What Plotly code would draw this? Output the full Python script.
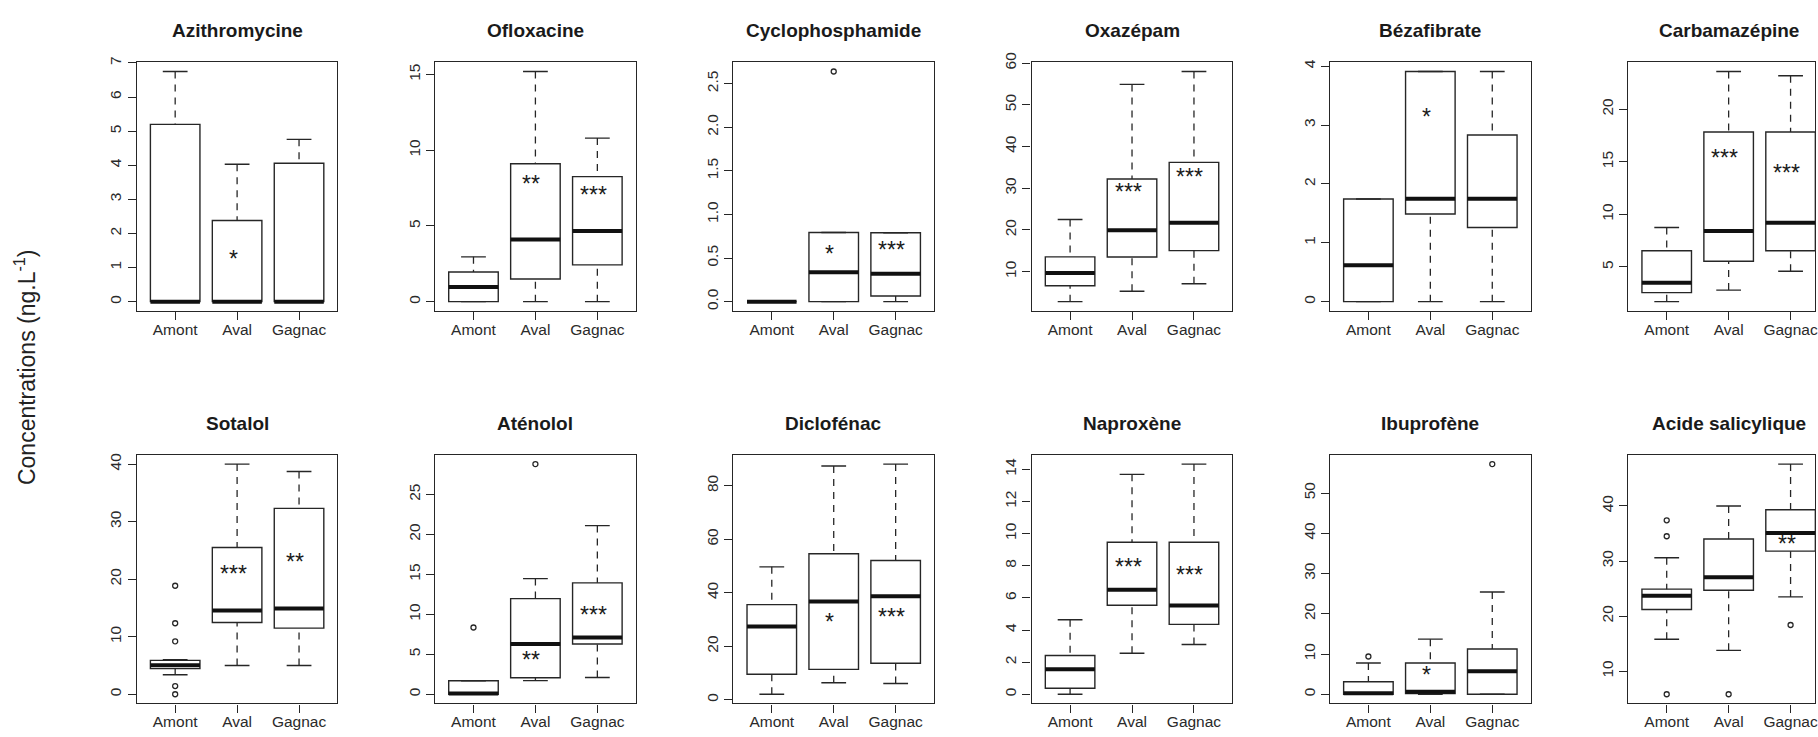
import plotly.graph_objects as go

# ---------------- data ----------------
compounds = ["Azithromycine", "Ofloxacine", "Cyclophosphamide", "Oxazépam", "Bézafibrate",
             "Carbamazépine", "Sotalol", "Aténolol", "Diclofénac", "Naproxène",
             "Ibuprofène", "Acide salicylique"]
sites = ["Amont", "Aval", "Gagnac"]

whisker_low = [
    [0, 0, 0],
    [0, 0, 0],
    [0, 0, 0],
    [2.8, 5.3, 7.1],
    [0, 0, 0],
    [1.7, 2.8, 4.6],
    [3.4, 5.0, 5.0],
    [0, 1.7, 2.1],
    [2.1, 6.4, 6.1],
    [0, 2.55, 3.1],
    [0, 0, 0],
    [15.8, 13.8, 23.5],
]
q1_vals = [
    [0, 0, 0],
    [0, 1.5, 2.43],
    [0, 0, 0.064],
    [6.6, 13.5, 15.05],
    [0, 1.49, 1.26],
    [2.56, 5.54, 6.54],
    [4.46, 12.46, 11.5],
    [0, 2.06, 6.29],
    [9.6, 11.4, 13.7],
    [0.37, 5.54, 4.35],
    [0, 0.2, 0],
    [21.2, 24.7, 31.8],
]
median_vals = [
    [0, 0, 0],
    [0.96, 4.11, 4.67],
    [0, 0.336, 0.32],
    [9.7, 19.9, 21.7],
    [0.62, 1.75, 1.75],
    [3.5, 8.42, 9.2],
    [5.03, 14.57, 14.9],
    [0.1, 6.29, 7.1],
    [27.4, 36.8, 38.7],
    [1.55, 6.5, 5.52],
    [0.25, 0.65, 5.7],
    [23.7, 27.05, 35.1],
]
q3_vals = [
    [5.2, 2.38, 4.06],
    [1.96, 9.11, 8.26],
    [0, 0.793, 0.79],
    [13.55, 32.2, 36.2],
    [1.745, 3.91, 2.83],
    [6.54, 17.84, 17.84],
    [5.89, 25.5, 32.3],
    [1.69, 11.97, 13.94],
    [35.6, 54.6, 52.1],
    [2.41, 9.46, 9.46],
    [3.1, 7.75, 11.26],
    [24.9, 34.0, 39.3],
]
whisker_high = [
    [6.75, 4.03, 4.76],
    [2.96, 15.2, 10.8],
    [0, 0.793, 0.79],
    [22.5, 54.9, 58.0],
    [1.745, 3.91, 3.91],
    [8.76, 23.6, 23.2],
    [6.0, 40.0, 38.7],
    [1.69, 14.47, 21.1],
    [49.7, 87.4, 88.1],
    [4.64, 13.69, 14.33],
    [7.75, 13.7, 25.4],
    [30.6, 40.0, 47.6],
]

outlier_compound = ["Cyclophosphamide",
                    "Sotalol", "Sotalol", "Sotalol", "Sotalol", "Sotalol",
                    "Aténolol", "Aténolol",
                    "Ibuprofène", "Ibuprofène",
                    "Acide salicylique", "Acide salicylique", "Acide salicylique",
                    "Acide salicylique", "Acide salicylique"]
outlier_site = ["Aval",
                "Amont", "Amont", "Amont", "Amont", "Amont",
                "Amont", "Aval",
                "Amont", "Gagnac",
                "Amont", "Amont", "Amont", "Aval", "Gagnac"]
outlier_value = [2.64,
                 18.86, 12.34, 9.2, 1.43, 0.0,
                 8.35, 28.8,
                 9.38, 57.2,
                 37.4, 34.5, 5.83, 5.83, 18.4]

star_compound = ["Azithromycine", "Ofloxacine", "Ofloxacine", "Cyclophosphamide", "Cyclophosphamide",
                 "Oxazépam", "Oxazépam", "Bézafibrate", "Carbamazépine", "Carbamazépine",
                 "Sotalol", "Sotalol", "Aténolol", "Aténolol", "Diclofénac", "Diclofénac",
                 "Naproxène", "Naproxène", "Ibuprofène", "Acide salicylique"]
star_site = ["Aval", "Aval", "Gagnac", "Aval", "Gagnac",
             "Aval", "Gagnac", "Aval", "Aval", "Gagnac",
             "Aval", "Gagnac", "Aval", "Gagnac", "Aval", "Gagnac",
             "Aval", "Gagnac", "Aval", "Gagnac"]
star_label = ["*", "**", "***", "*", "***",
              "***", "***", "*", "***", "***",
              "***", "**", "**", "***", "*", "***",
              "***", "***", "*", "**"]
star_value = [1.32, 7.9, 7.2, 0.574, 0.62,
              29.6, 33.2, 3.17, 15.6, 14.1,
              21.2, 23.3, 4.52, 10.2, 29.7, 31.7,
              8.03, 7.56, 5.4, 33.4]

ytick_vals = [
    [0, 1, 2, 3, 4, 5, 6, 7],
    [0, 5, 10, 15],
    [0, 0.5, 1, 1.5, 2, 2.5],
    [10, 20, 30, 40, 50, 60],
    [0, 1, 2, 3, 4],
    [5, 10, 15, 20],
    [0, 10, 20, 30, 40],
    [0, 5, 10, 15, 20, 25],
    [0, 20, 40, 60, 80],
    [0, 2, 4, 6, 8, 10, 12, 14],
    [0, 10, 20, 30, 40, 50],
    [10, 20, 30, 40],
]
y_title = "Concentrations (ng.L<sup>-1</sup>)"

# ---------------- style / geometry ----------------
W, H = 1818, 737
FONT = "Liberation Sans, Arial, Helvetica, sans-serif"
LINE = "#262626"
TXT = "#1a1a1a"
COL_LEFT, COL_STEP, BOX_W = 137, 298.8, 201
ROW_TOP, BOX_H = [53, 451], 252
XR0, XR1 = 0.38, 3.62

fig = go.Figure()
layout_axes = {}
annotations = []
positions = [1, 2, 3]

for i, name in enumerate(compounds):
    s = "" if i == 0 else str(i + 1)
    xa, ya = "x" + s, "y" + s
    row, col = divmod(i, 6)

    x0px = COL_LEFT + col * COL_STEP
    x1px = x0px + BOX_W
    xr1 = XR1
    if x1px > W:
        xr1 = XR0 + (XR1 - XR0) * (W - x0px) / BOX_W
        x1px = W
    y0px = ROW_TOP[row]
    y1px = y0px + BOX_H

    vals = whisker_low[i] + whisker_high[i] + [v for c, v in zip(outlier_compound, outlier_value) if c == name]
    lo, hi = min(vals), max(vals)
    ext = 0.04 * (hi - lo)

    lo_w, q1, med, q3, hi_w = whisker_low[i], q1_vals[i], median_vals[i], q3_vals[i], whisker_high[i]

    fig.add_trace(go.Box(
        x=positions, q1=q1, median=med, q3=q3, lowerfence=q1, upperfence=q3,
        width=0.8, whiskerwidth=0, fillcolor="white",
        line=dict(color=LINE, width=1.4), boxpoints=False, hoverinfo="skip",
        xaxis=xa, yaxis=ya, showlegend=False))

    wx, wy = [], []
    for p, a, b, c, d in zip(positions, hi_w, q3, lo_w, q1):
        wx += [p, p, None, p, p, None]
        wy += [a, b, None, c, d, None]
    fig.add_trace(go.Scatter(x=wx, y=wy, mode="lines",
                             line=dict(color=LINE, width=1.3, dash="7px,6px"),
                             hoverinfo="skip", xaxis=xa, yaxis=ya, showlegend=False))

    sx, sy = [], []
    for p, a, c in zip(positions, hi_w, lo_w):
        sx += [p - 0.2, p + 0.2, None, p - 0.2, p + 0.2, None]
        sy += [a, a, None, c, c, None]
    fig.add_trace(go.Scatter(x=sx, y=sy, mode="lines",
                             line=dict(color=LINE, width=1.4),
                             hoverinfo="skip", xaxis=xa, yaxis=ya, showlegend=False))

    mx, my = [], []
    for p, m in zip(positions, med):
        mx += [p - 0.4, p + 0.4, None]
        my += [m, m, None]
    fig.add_trace(go.Scatter(x=mx, y=my, mode="lines",
                             line=dict(color="#111111", width=4),
                             hoverinfo="skip", xaxis=xa, yaxis=ya, showlegend=False))

    ox = [positions[sites.index(st)] for c, st in zip(outlier_compound, outlier_site) if c == name]
    oy = [v for c, v in zip(outlier_compound, outlier_value) if c == name]
    if ox:
        fig.add_trace(go.Scatter(x=ox, y=oy, mode="markers",
                                 marker=dict(symbol="circle-open", size=5, color=LINE,
                                             line=dict(width=1.3, color=LINE)),
                                 hoverinfo="skip", xaxis=xa, yaxis=ya, showlegend=False))

    for c, st, lab, v in zip(star_compound, star_site, star_label, star_value):
        if c == name:
            annotations.append(dict(x=positions[sites.index(st)], y=v, xref=xa, yref=ya,
                                    text=lab, showarrow=False, xshift=-4, yshift=-2,
                                    font=dict(family=FONT, size=23, color=TXT)))

    annotations.append(dict(x=(x0px + BOX_W / 2) / W, y=1 - (y0px - 32) / H,
                            xref="paper", yref="paper", text="<b>%s</b>" % name,
                            showarrow=False, xanchor="center", yanchor="middle",
                            font=dict(family=FONT, size=19, color=TXT)))

    tick_text = [("%.1f" % v) if any(float(t) != int(t) for t in ytick_vals[i]) else str(int(v))
                 for v in ytick_vals[i]]

    layout_axes["xaxis" + s] = dict(
        domain=[x0px / W, x1px / W], range=[XR0, xr1], anchor=ya,
        tickmode="array", tickvals=positions, ticktext=sites,
        ticks="outside", ticklen=8, tickwidth=1.3, tickcolor=LINE,
        ticklabelstandoff=-4, ticklabeloverflow="allow",
        showline=True, mirror=True, linecolor=LINE, linewidth=1.4,
        showgrid=False, zeroline=False, fixedrange=True,
        tickfont=dict(family=FONT, size=15.5, color="#2a2a2a"))
    layout_axes["yaxis" + s] = dict(
        domain=[1 - y1px / H, 1 - y0px / H], range=[lo - ext, hi + ext], anchor=xa,
        tickmode="array", tickvals=ytick_vals[i], ticktext=tick_text, tickangle=-90,
        ticks="outside", ticklen=8, tickwidth=1.3, tickcolor=LINE,
        showline=True, mirror=True, linecolor=LINE, linewidth=1.4,
        showgrid=False, zeroline=False, fixedrange=True,
        tickfont=dict(family=FONT, size=15.5, color="#2a2a2a"))

annotations.append(dict(x=25 / W, y=1 - 362 / H, xref="paper", yref="paper",
                        text=y_title, textangle=-90, showarrow=False,
                        xanchor="center", yanchor="middle",
                        font=dict(family=FONT, size=23, color="#222222")))

fig.update_layout(
    width=W, height=H, autosize=False,
    margin=dict(l=0, r=0, t=0, b=0),
    paper_bgcolor="white", plot_bgcolor="white",
    showlegend=False, annotations=annotations,
    **layout_axes)

fig.write_html("out.html", config={"displayModeBar": False},
               post_script="document.body.style.margin='0';document.body.style.overflow='hidden';")
